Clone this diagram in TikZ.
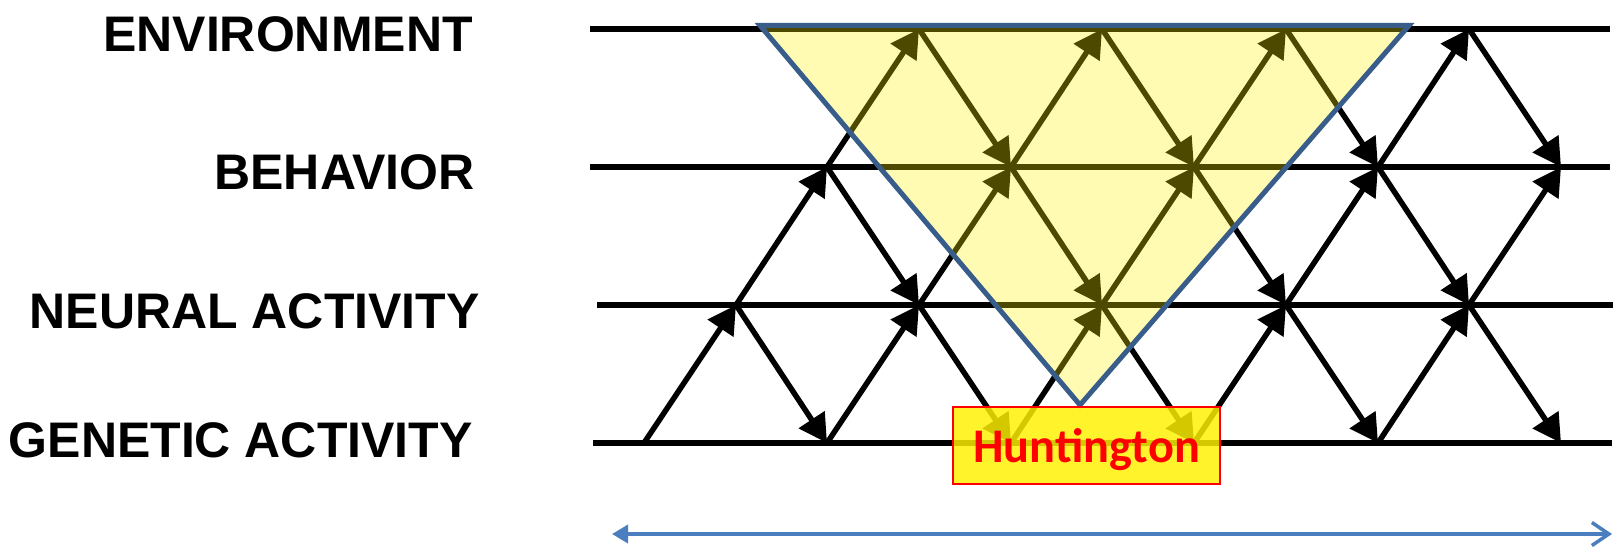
\documentclass[tikz,border=0pt]{standalone}
\usepackage{fontspec}
\setmainfont{Liberation Sans}
\newfontfamily\calfont{Carlito}
\usetikzlibrary{arrows.meta}
\definecolor{triblue}{RGB}{56,93,138}
\definecolor{axisblue}{RGB}{74,126,190}
\definecolor{huntred}{RGB}{255,0,0}
\begin{document}
\begin{tikzpicture}[x=0.02cm,y=-0.02cm,
  level/.style={line width=0.12cm},
  link/.style={line width=0.11cm, -{Triangle[length=0.56cm,width=0.6cm]}},
  lab/.style={anchor=base east, inner sep=0pt, font=\fontsize{28.45pt}{34pt}\selectfont\bfseries},
  zone/.style={draw=triblue, line width=0.1cm, fill=yellow, fill opacity=0.3, line join=miter},
  hbox/.style={draw=huntred, line width=0.04cm, fill=yellow, fill opacity=0.83, text opacity=1,
    text=huntred, inner sep=0pt, minimum width=5.34cm, minimum height=1.54cm,
    text height=0.9cm, text depth=0.2cm,
    font=\calfont\fontsize{27.5pt}{32pt}\selectfont\bfseries},
  span/.style={draw=axisblue, line width=0.07cm,
    {Triangle[length=0.32cm,width=0.36cm]}-{Straight Barb[length=0.34cm,width=0.46cm]}}
]
\useasboundingbox (0,0) rectangle (1616,547);

% level labels
\node[lab] (lenv) at (473,52)  {ENVIRONMENT};
\node[lab] (lbeh) at (475,190) {BEHAVIOR};
\node[lab] (lneu) at (480,328) {NEURAL ACTIVITY};
\node[lab] (lgen) at (473,457) {GENETIC ACTIVITY};

% ends of the four level lines
\coordinate (envL) at (590,29);  \coordinate (envR) at (1610,29);
\coordinate (behL) at (590,167); \coordinate (behR) at (1610,167);
\coordinate (neuL) at (597,305); \coordinate (neuR) at (1613,305);
\coordinate (genL) at (593,443); \coordinate (genR) at (1612,443);
\foreach \l in {env,beh,neu,gen} \draw[level] (\l L) -- (\l R);

% crossing points of the lattice
\foreach \i/\x in {0/644,1/827,2/1011,3/1194,4/1378,5/1561} \coordinate (g\i) at (\x,443);
\foreach \i/\x in {1/736,2/919,3/1102,4/1286,5/1469} \coordinate (n\i) at (\x,305);
\foreach \i/\x in {1/827,2/1011,3/1194,4/1378,5/1561} \coordinate (b\i) at (\x,167);
\foreach \i/\x in {1/919,2/1102,3/1286,4/1469} \coordinate (e\i) at (\x,29);

% upward influences
\foreach \a/\b in {g0/n1,n1/b1,b1/e1, g1/n2,n2/b2,b2/e2, g2/n3,n3/b3,b3/e3,
                   g3/n4,n4/b4,b4/e4, g4/n5,n5/b5}
  \draw[link] (\a) -- (\b);
% downward influences
\foreach \a/\b in {n1/g1, b1/n2,n2/g2, e1/b2,b2/n3,n3/g3, e2/b3,b3/n4,n4/g4,
                   e3/b4,b4/n5,n5/g5, e4/b5}
  \draw[link] (\a) -- (\b);

% highlighted region
\coordinate (tl) at (760,25.5);
\coordinate (tr) at (1409,25.5);
\coordinate (tb) at (1080,405);
\draw[zone] (tl) -- (tr) -- (tb) -- cycle;

% label box
\node[hbox] (hunt) at (1086.5,445.5) {Huntington};

% time span
\coordinate (axL) at (612,534);
\coordinate (axR) at (1612,534);
\draw[span] (axL) -- (axR);
\end{tikzpicture}
\end{document}
